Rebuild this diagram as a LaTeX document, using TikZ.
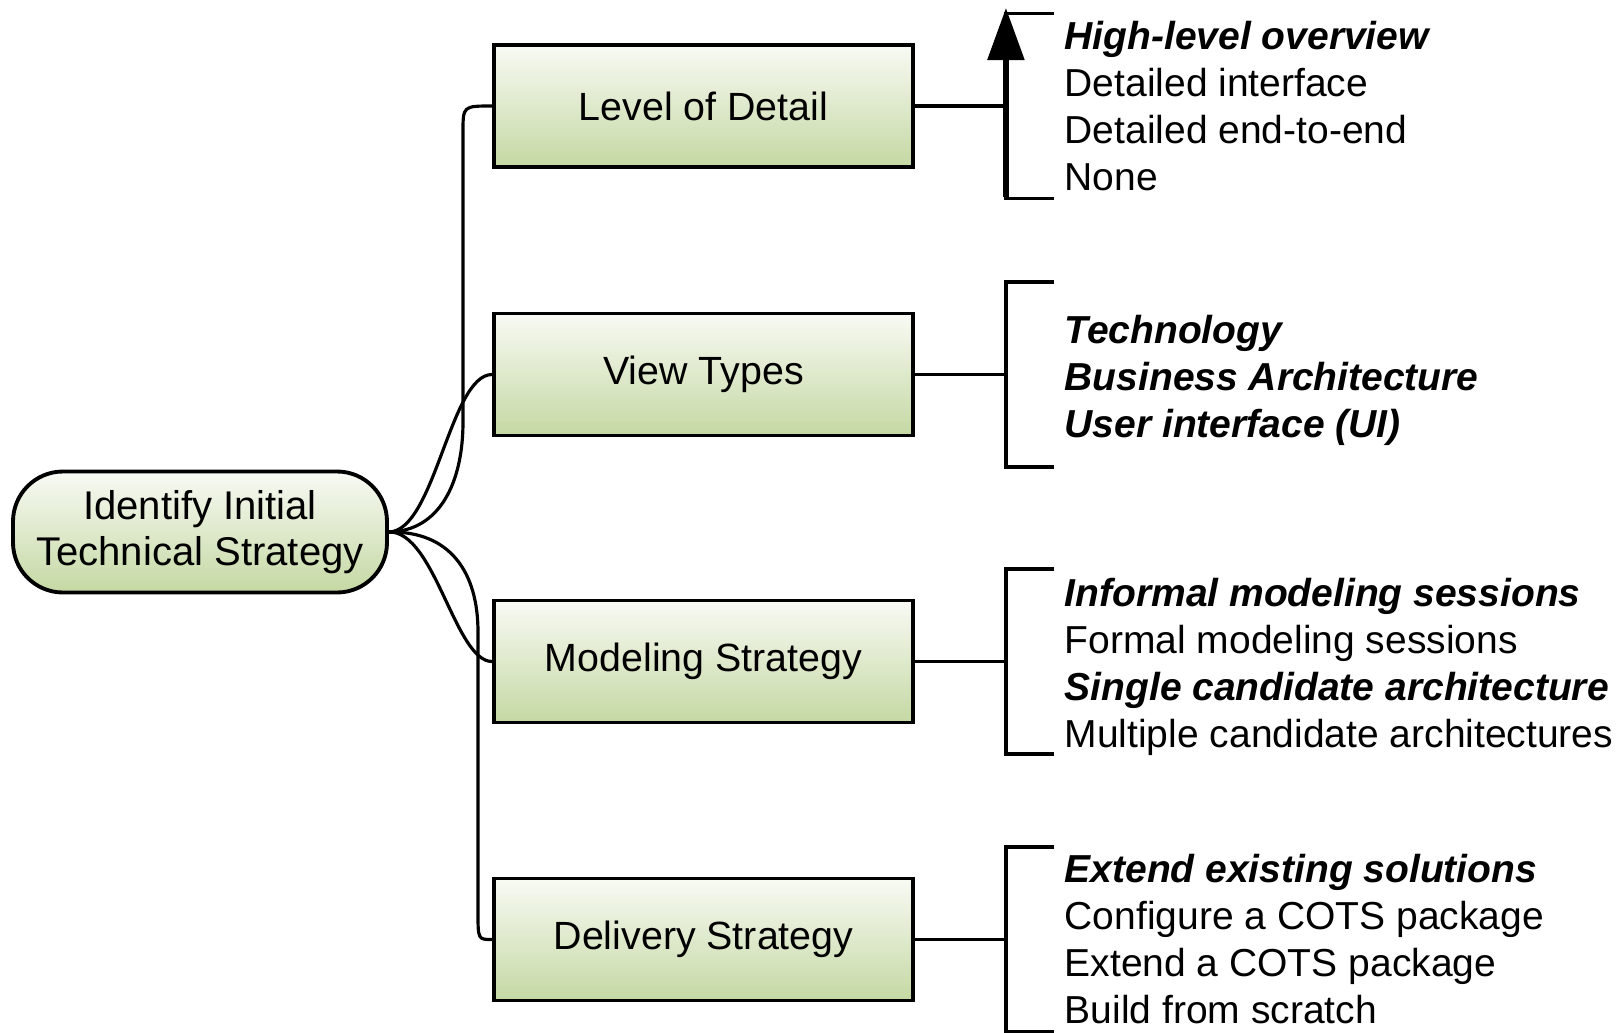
\documentclass[tikz,border=0pt]{standalone}
\usepackage{fontspec}
\setmainfont{Liberation Sans}
\usetikzlibrary{positioning}
\usetikzlibrary{arrows.meta}

\definecolor{boxtop}{RGB}{248,250,244}
\definecolor{boxbot}{RGB}{197,216,163}

\begin{document}
\begin{tikzpicture}[topic/.style={draw,line width=1.1pt,top color=boxtop,bottom color=boxbot,minimum width=4.19cm,minimum height=1.22cm,font=\fontsize{11.2}{13.2}\selectfont},
    root/.style={topic,rounded corners=0.5cm,minimum width=3.74cm,minimum height=1.21cm,align=center,font=\fontsize{11.4}{13.2}\selectfont},
    choices/.style={align=left,inner sep=0pt,font=\fontsize{11.1}{13.37}\selectfont},
    link/.style={line width=0.9pt}]

    \useasboundingbox (0,0) rectangle (16.24,10.32);

    \node[root]         (r) at (2.00, 5.00)       {Identify Initial\\Technical Strategy};
    \node[topic]        (lod) at (7.035, 9.26)    {Level of Detail};
    \node[topic]        (vt) at (7.035, 6.575)    {View Types};
    \node[topic]        (mod) at (7.035, 3.705)   {Modeling Strategy};
    \node[topic]        (del) at (7.035, 0.925)   {Delivery Strategy};

    % branches from the central topic
    \draw[link] (r.east) .. controls (4.40,5.01) and (4.63,5.50) .. (4.63,6.10) -- (4.63,9.00) .. controls (4.63,9.26) .. (lod.west);
    \draw[link] (r.east) .. controls (4.35,5.01) and (4.50,6.575) .. (vt.west);
    \draw[link] (r.east) .. controls (4.35,5.01) and (4.55,3.705) .. (mod.west);
    \draw[link] (r.east) .. controls (4.50,5.01) and (4.78,4.60) .. (4.78,4.00) -- (4.78,1.20) .. controls (4.78,0.925) .. (del.west);

    % brackets
    \foreach \n in {lod,vt,mod,del}{
      \draw[link] (\n.east) -- ++(0.91,0) coordinate (\n b);
      \draw[link] ([shift={(0.48,0.925)}]\n b) -| ([yshift=-0.925cm]\n b) -- ++(0.48,0);
    }
    \draw[line width=1.6pt,-{Triangle[width=0.36cm,length=0.52cm]}] ([yshift=-0.91cm]lodb) -- ([yshift=0.98cm]lodb);

    \node[choices, right=0.58cm of lodb] (lodc) {\textbf{\textit{High-level overview}}\\Detailed interface\\Detailed end-to-end\\None};
    \node[choices, right=0.58cm of vtb, yshift=-0.06cm] (vtc) {\textbf{\textit{Technology}}\\\textbf{\textit{Business Architecture}}\\\textbf{\textit{User interface (UI)}}};
    \node[choices, right=0.58cm of modb, yshift=-0.05cm] (modc) {\textbf{\textit{Informal modeling sessions}}\\Formal modeling sessions\\\textbf{\textit{Single candidate architecture}}\\Multiple candidate architectures};
    \node[choices, right=0.58cm of delb] (delc) {\textbf{\textit{Extend existing solutions}}\\Configure a COTS package\\Extend a COTS package\\Build from scratch};
  \end{tikzpicture}
\end{document}
